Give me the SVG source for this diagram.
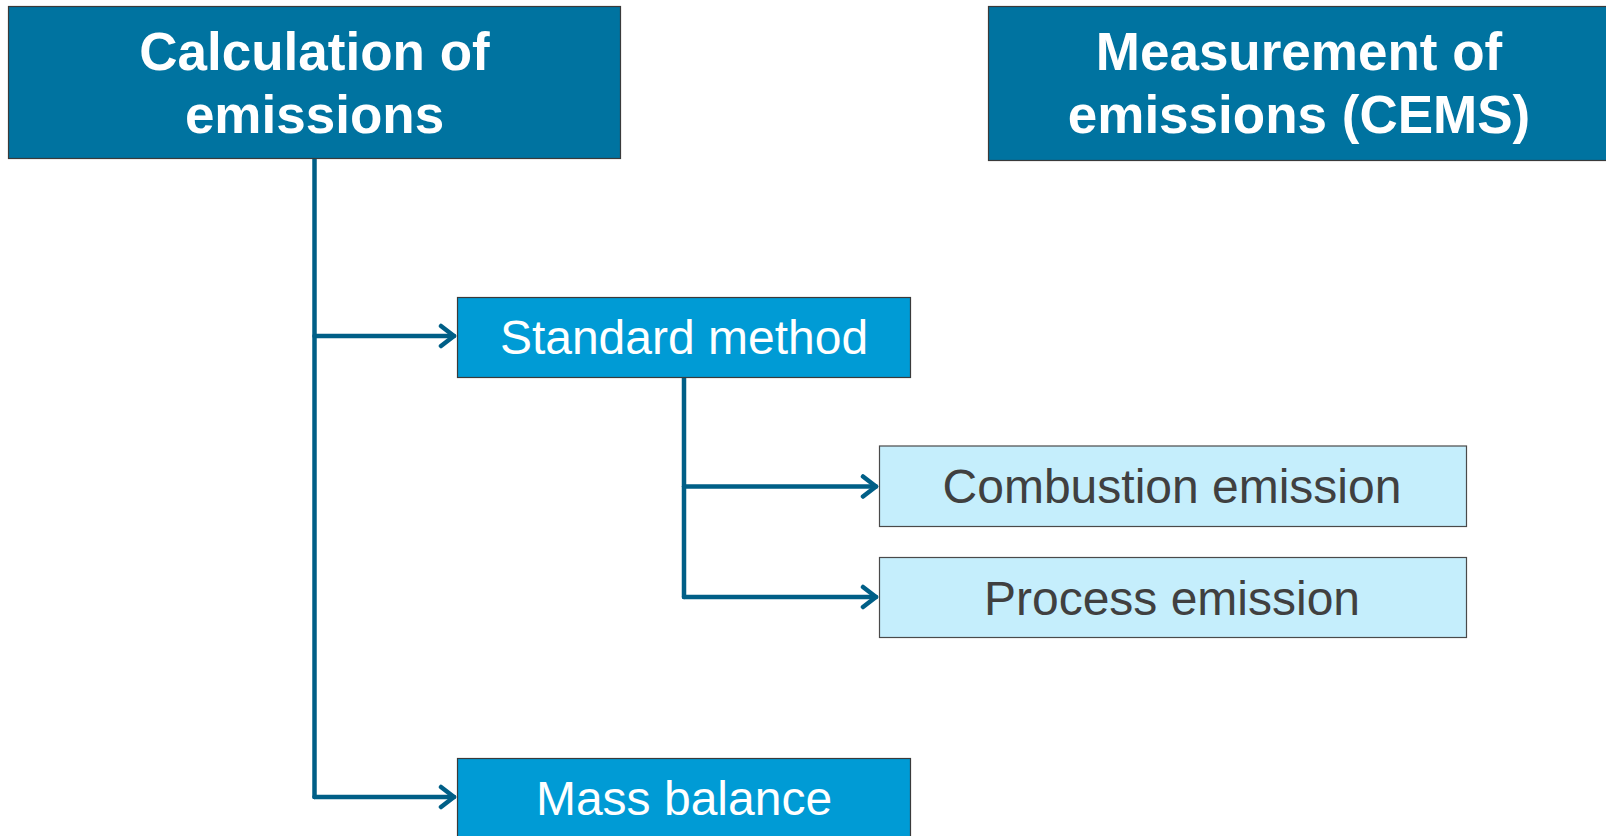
<svg xmlns="http://www.w3.org/2000/svg" width="1606" height="836" viewBox="0 0 1606 836">
<defs>
<style>
.hdr{fill:#0073A0;stroke:#3a3a3a;stroke-width:1.2}
.mid{fill:#009BD5;stroke:#3a3a3a;stroke-width:1.2}
.lt{fill:#C5EEFC;stroke:#4a4a4a;stroke-width:1.2}
.th{font-family:"Liberation Sans",Arial,sans-serif;font-weight:bold;font-size:53px;fill:#fff;text-anchor:middle}
.tm{font-family:"Liberation Sans",Arial,sans-serif;font-size:48px;fill:#fff;text-anchor:middle}
.tl{font-family:"Liberation Sans",Arial,sans-serif;font-size:48px;fill:#404040;text-anchor:middle}
.cn{fill:none;stroke:#005F87;stroke-width:4.5;stroke-linejoin:round;stroke-linecap:round}
</style>
<marker id="arr" viewBox="0 0 20 26" refX="17" refY="13" markerWidth="20" markerHeight="26" markerUnits="userSpaceOnUse" orient="auto">
<path d="M4,3 L17,13 L4,23" fill="none" stroke="#005F87" stroke-width="4.5" stroke-linecap="round" stroke-linejoin="round"/>
</marker>
</defs>
<rect width="1606" height="836" fill="#fff"/>
<g id="connectors">
<path class="cn" d="M314.5,159 V797"/>
<path class="cn" d="M314.5,336 H454" marker-end="url(#arr)"/>
<path class="cn" d="M314.5,797 H454" marker-end="url(#arr)"/>
<path class="cn" d="M684,377 V597"/>
<path class="cn" d="M684,486.5 H876" marker-end="url(#arr)"/>
<path class="cn" d="M684,597 H876" marker-end="url(#arr)"/>
</g>
<g id="calc">
<rect class="hdr" x="8.5" y="6.5" width="612" height="152"/>
<text class="th" x="314.5" y="70">Calculation of</text>
<text class="th" x="314.5" y="133">emissions</text>
</g>
<g id="meas">
<rect class="hdr" x="988.5" y="6.5" width="625" height="154"/>
<text class="th" x="1299" y="70">Measurement of</text>
<text class="th" x="1299" y="133">emissions (CEMS)</text>
</g>
<g id="standard">
<rect class="mid" x="457.5" y="297.5" width="453" height="80"/>
<text class="tm" x="684" y="354">Standard method</text>
</g>
<g id="combustion">
<rect class="lt" x="879.5" y="446" width="587" height="80.5"/>
<text class="tl" x="1172" y="503">Combustion emission</text>
</g>
<g id="process">
<rect class="lt" x="879.5" y="557.5" width="587" height="80"/>
<text class="tl" x="1172" y="614.5">Process emission</text>
</g>
<g id="mass">
<rect class="mid" x="457.5" y="758.5" width="453" height="90"/>
<text class="tm" x="684" y="815">Mass balance</text>
</g>
</svg>
